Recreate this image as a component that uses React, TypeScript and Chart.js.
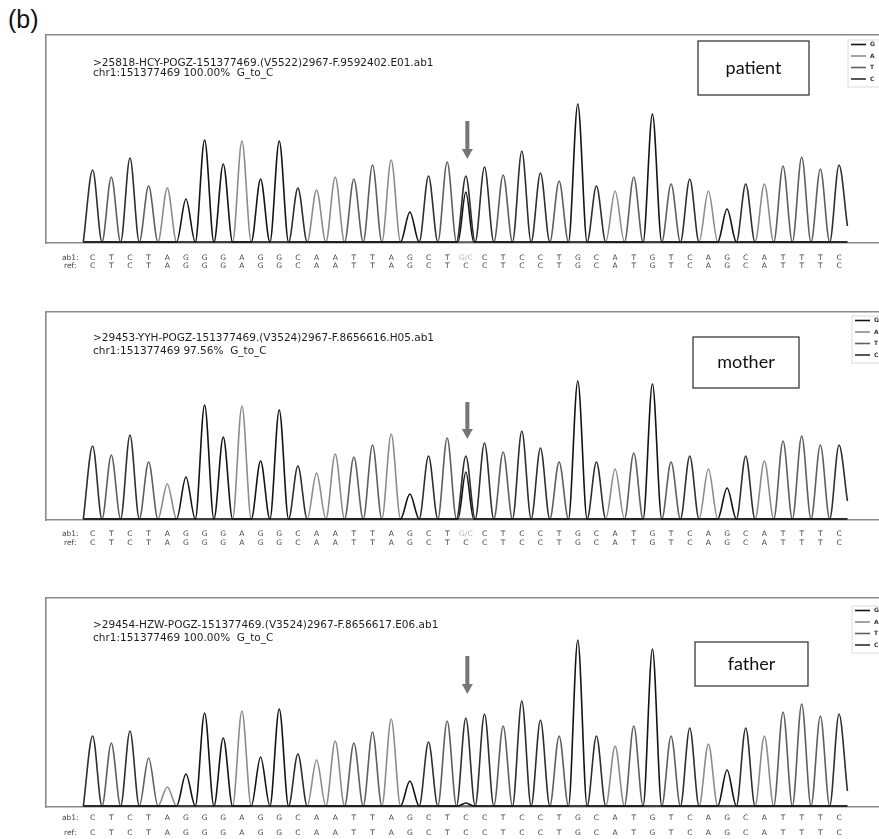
import React, { useEffect, useRef } from 'react';
import { Chart, registerables } from 'chart.js';

Chart.register(...registerables);

// ---- data ----
const MAIN_BASES = ['C','T','C','T','A','G','G','G','A','G','G','C','A','A','T','T','A','G','C','T','C','C','T','C','C','T','G','C','A','T','G','T','C','A','G','C','A','T','T','T','C'];
const REF_SEQ = ['C','T','C','T','A','G','G','G','A','G','G','C','A','A','T','T','A','G','C','T','C','C','T','C','C','T','G','C','A','T','G','T','C','A','G','C','A','T','T','T','C'];
const AB1_PATIENT = ['C','T','C','T','A','G','G','G','A','G','G','C','A','A','T','T','A','G','C','T','G/C','C','T','C','C','T','G','C','A','T','G','T','C','A','G','C','A','T','T','T','C'];
const AB1_MOTHER = ['C','T','C','T','A','G','G','G','A','G','G','C','A','A','T','T','A','G','C','T','G/C','C','T','C','C','T','G','C','A','T','G','T','C','A','G','C','A','T','T','T','C'];
const AB1_FATHER = ['C','T','C','T','A','G','G','G','A','G','G','C','A','A','T','T','A','G','C','T','C','C','T','C','C','T','G','C','A','T','G','T','C','A','G','C','A','T','T','T','C'];
const ROW_LABELS = ['ab1:', 'ref:'];

const PATIENT_HEIGHTS = [72,65,84,56,54,43,102,78,101,63,101,54,52,65,63,77,82,30,66,80,66,75,67,91,69,61,138,56,51,65,128,58,63,51,33,58,58,76,85,73,77];
const MOTHER_HEIGHTS = [73,64,84,57,35,42,114,82,113,58,109,53,46,65,62,74,85,25,63,81,63,76,67,88,71,57,138,57,50,66,135,57,63,50,31,63,58,78,83,74,74];
const FATHER_HEIGHTS = [70,63,75,48,19,32,93,68,95,49,97,52,46,65,63,74,87,25,64,85,88,92,80,105,86,70,166,70,60,80,157,70,78,62,36,78,70,94,102,90,92];

// secondary (G) peak under the variant position 21
const SECONDARY_BASE = 'G';
const SECONDARY_POS = 21;
const PATIENT_SECONDARY = 50;
const MOTHER_SECONDARY = 47;
const FATHER_SECONDARY = 3;
// trace end value of the last C peak
const PATIENT_TAIL = 16;
const MOTHER_TAIL = 18;
const FATHER_TAIL = 15;

const TITLES_1 = [
  '>25818-HCY-POGZ-151377469.(V5522)2967-F.9592402.E01.ab1',
  '>29453-YYH-POGZ-151377469.(V3524)2967-F.8656616.H05.ab1',
  '>29454-HZW-POGZ-151377469.(V3524)2967-F.8656617.E06.ab1',
];
const TITLES_2 = [
  'chr1:151377469 100.00%  G_to_C',
  'chr1:151377469 97.56%  G_to_C',
  'chr1:151377469 100.00%  G_to_C',
];
const SAMPLE_LABELS = ['patient', 'mother', 'father'];
const LEGEND_BASES = ['G', 'A', 'T', 'C'];

// ---- styles ----
const BASE_COLORS: Record<string, string> = { G: '#141414', A: '#8c8c8c', T: '#5e5e5e', C: '#2e2e2e' };
const X_MIN = -1.5;
const X_MAX = 44;
const ROW_LABEL_POS = -0.2;

type PanelCfg = {
  canvasTop: number; chartH: number; heights: number[]; secondary: number; tail: number; ab1: string[];
  title1: string; title2: string; label: string;
  box: [number, number, number, number]; legendX: number; legendY: number;
  arrow: [number, number]; titleY: [number, number]; rowY: [number, number];
};

const PANELS: PanelCfg[] = [
  { canvasTop: 0, chartH: 208, heights: PATIENT_HEIGHTS, secondary: PATIENT_SECONDARY, tail: PATIENT_TAIL, ab1: AB1_PATIENT,
    title1: TITLES_1[0], title2: TITLES_2[0], label: SAMPLE_LABELS[0],
    box: [698, 6, 809, 60], legendX: 851, legendY: 5, arrow: [121, 83], titleY: [28.5, 38.5], rowY: [15, 23] },
  { canvasTop: 277, chartH: 208, heights: MOTHER_HEIGHTS, secondary: MOTHER_SECONDARY, tail: MOTHER_TAIL, ab1: AB1_MOTHER,
    title1: TITLES_1[1], title2: TITLES_2[1], label: SAMPLE_LABELS[1],
    box: [693, 25, 799, 76], legendX: 855, legendY: 4, arrow: [117, 80], titleY: [26.5, 39], rowY: [14.5, 23] },
  { canvasTop: 563, chartH: 209, heights: FATHER_HEIGHTS, secondary: FATHER_SECONDARY, tail: FATHER_TAIL, ab1: AB1_FATHER,
    title1: TITLES_1[2], title2: TITLES_2[2], label: SAMPLE_LABELS[2],
    box: [695, 44, 808, 88], legendX: 855, legendY: 8, arrow: [150, 112], titleY: [27.5, 40], rowY: [11, 26] },
];

function buildTraces(heights: number[], secondary: number, tail: number) {
  const peaks = MAIN_BASES.map((b, i) => ({ b, pos: i + 1, h: heights[i], w: 0.5 }));
  peaks.push({ b: SECONDARY_BASE, pos: SECONDARY_POS, h: secondary, w: 0.42 });
  peaks.sort((p, q) => p.pos - q.pos);
  const first = 0.5;
  const last = MAIN_BASES.length + 0.45;
  const traces: Record<string, { x: number; y: number }[]> = { G: [], A: [], T: [], C: [] };
  for (const b of LEGEND_BASES) traces[b].push({ x: first, y: 0 });
  for (const p of peaks) {
    const arr = traces[p.b];
    const start = p.pos - p.w;
    if (arr[arr.length - 1].x < start) arr.push({ x: start, y: 0 });
    arr.push({ x: p.pos, y: p.h });
    arr.push({ x: Math.min(p.pos + p.w, last), y: 0 });
  }
  for (const b of LEGEND_BASES) {
    const arr = traces[b];
    if (arr[arr.length - 1].x < last) arr.push({ x: last, y: 0 });
  }
  const c = traces['C'];
  c[c.length - 1] = { x: last, y: tail };
  return traces;
}

const BOTTOM_SPACE = 36;

function Panel({ cfg }: { cfg: PanelCfg }) {
  const ref = useRef<HTMLCanvasElement>(null);
  const canvasH = 35 + cfg.chartH + BOTTOM_SPACE;

  useEffect(() => {
    const traces = buildTraces(cfg.heights, cfg.secondary, cfg.tail);
    const order = ['G', 'C', 'T', 'A'];
    const overlay = {
      id: 'overlay',
      afterDraw(chart: any) {
        const { ctx, chartArea, scales } = chart;
        const top = chartArea.top;
        const xs = scales.x;
        ctx.save();
        // base-call rows (ab1 / ref) positioned by the x scale
        ctx.font = '7.5px "DejaVu Sans"';
        ctx.textAlign = 'center';
        ctx.textBaseline = 'middle';
        const yAb1 = chartArea.bottom + cfg.rowY[0];
        const yRef = chartArea.bottom + cfg.rowY[1];
        ctx.fillStyle = '#444';
        ctx.fillText(ROW_LABELS[0], xs.getPixelForValue(ROW_LABEL_POS), yAb1);
        ctx.fillText(ROW_LABELS[1], xs.getPixelForValue(ROW_LABEL_POS), yRef);
        cfg.ab1.forEach((s, i) => {
          ctx.fillStyle = s.length > 1 ? '#b4b4b4' : '#444';
          ctx.fillText(s, xs.getPixelForValue(i + 1), yAb1);
        });
        ctx.fillStyle = '#444';
        REF_SEQ.forEach((s, i) => {
          ctx.fillText(s, xs.getPixelForValue(i + 1), yRef);
        });
        // title
        ctx.fillStyle = '#1e1e1e';
        ctx.font = '10.5px "DejaVu Sans"';
        ctx.textAlign = 'left';
        ctx.fillText(cfg.title1, chartArea.left + 47, top + cfg.titleY[0]);
        ctx.fillText(cfg.title2, chartArea.left + 47, top + cfg.titleY[1]);
        // sample label box
        const [bx0, by0, bx1, by1] = cfg.box;
        ctx.strokeStyle = '#3a3a3a';
        ctx.lineWidth = 1.3;
        ctx.strokeRect(bx0, top + by0, bx1 - bx0, by1 - by0);
        ctx.fillStyle = '#111';
        ctx.font = '18px Lato';
        ctx.textAlign = 'center';
        ctx.fillText(cfg.label, (bx0 + bx1) / 2, top + (by0 + by1) / 2);
        // legend
        const lx = cfg.legendX;
        const ly = top + cfg.legendY;
        ctx.fillStyle = '#fff';
        ctx.fillRect(lx - 3, ly, 60, 47);
        ctx.strokeStyle = '#dcdcdc';
        ctx.lineWidth = 1;
        ctx.strokeRect(lx - 3, ly, 60, 47);
        ctx.font = 'bold 6px "DejaVu Sans"';
        ctx.textAlign = 'left';
        LEGEND_BASES.forEach((b, i) => {
          const yy = ly + 4.5 + i * 11.5;
          ctx.strokeStyle = BASE_COLORS[b];
          ctx.lineWidth = 1.6;
          ctx.beginPath();
          ctx.moveTo(lx, yy);
          ctx.lineTo(lx + 15, yy);
          ctx.stroke();
          ctx.fillStyle = '#333';
          ctx.fillText(b, lx + 19, yy);
        });
        // arrow
        const ax = xs.getPixelForValue(SECONDARY_POS) + 1.5;
        const aTop = scales.y.getPixelForValue(cfg.arrow[0]);
        const aTip = scales.y.getPixelForValue(cfg.arrow[1]);
        ctx.fillStyle = '#777';
        ctx.fillRect(ax - 2, aTop, 4, aTip - aTop - 9);
        ctx.beginPath();
        ctx.moveTo(ax - 5.5, aTip - 10);
        ctx.lineTo(ax + 5.5, aTip - 10);
        ctx.lineTo(ax, aTip);
        ctx.closePath();
        ctx.fill();
        ctx.restore();
      },
    };

    const chart = new Chart(ref.current as HTMLCanvasElement, {
      type: 'line',
      data: {
        datasets: order.map((b) => ({
          label: b,
          data: traces[b],
          borderColor: BASE_COLORS[b],
          borderWidth: 1.6,
          pointRadius: 0,
          fill: false,
          cubicInterpolationMode: 'monotone' as const,
        })),
      },
      options: {
        responsive: false,
        animation: false,
        events: [],
        layout: { padding: { left: 46, top: 35, right: 5, bottom: BOTTOM_SPACE } },
        plugins: { legend: { display: false }, tooltip: { enabled: false } },
        scales: {
          x: {
            type: 'linear', position: 'bottom', min: X_MIN, max: X_MAX,
            grid: { display: false },
            border: { display: true, color: '#8a8a8a', width: 1.6 },
            ticks: { display: false },
            afterFit: (s: any) => { s.height = 0; },
          },
          xTop: {
            type: 'linear', position: 'top', min: X_MIN, max: X_MAX,
            grid: { display: false },
            border: { display: true, color: '#8a8a8a', width: 1.6 },
            ticks: { display: false },
            afterFit: (s: any) => { s.height = 0; },
          },
          y: {
            type: 'linear', min: -1, max: cfg.chartH - 1,
            grid: { display: false },
            border: { display: true, color: '#8a8a8a', width: 1.6 },
            ticks: { display: false },
            afterFit: (s: any) => { s.width = 0; },
          },
        },
      } as any,
      plugins: [overlay],
    });
    return () => chart.destroy();
  }, []);

  return (
    <canvas
      ref={ref}
      width={900}
      height={canvasH}
      style={{ position: 'absolute', left: 0, top: cfg.canvasTop, display: 'block' }}
    />
  );
}

export default function App() {
  return (
    <div style={{ position: 'absolute', left: 0, top: 0, width: 879, height: 839, overflow: 'hidden', background: '#fff' }}>
      <div style={{ position: 'absolute', left: 8, top: 5, fontFamily: '"Liberation Sans", Arial, sans-serif', fontSize: 25, lineHeight: 'normal', color: '#111' }}>(b)</div>
      {PANELS.map((p, i) => (
        <Panel key={i} cfg={p} />
      ))}
    </div>
  );
}
